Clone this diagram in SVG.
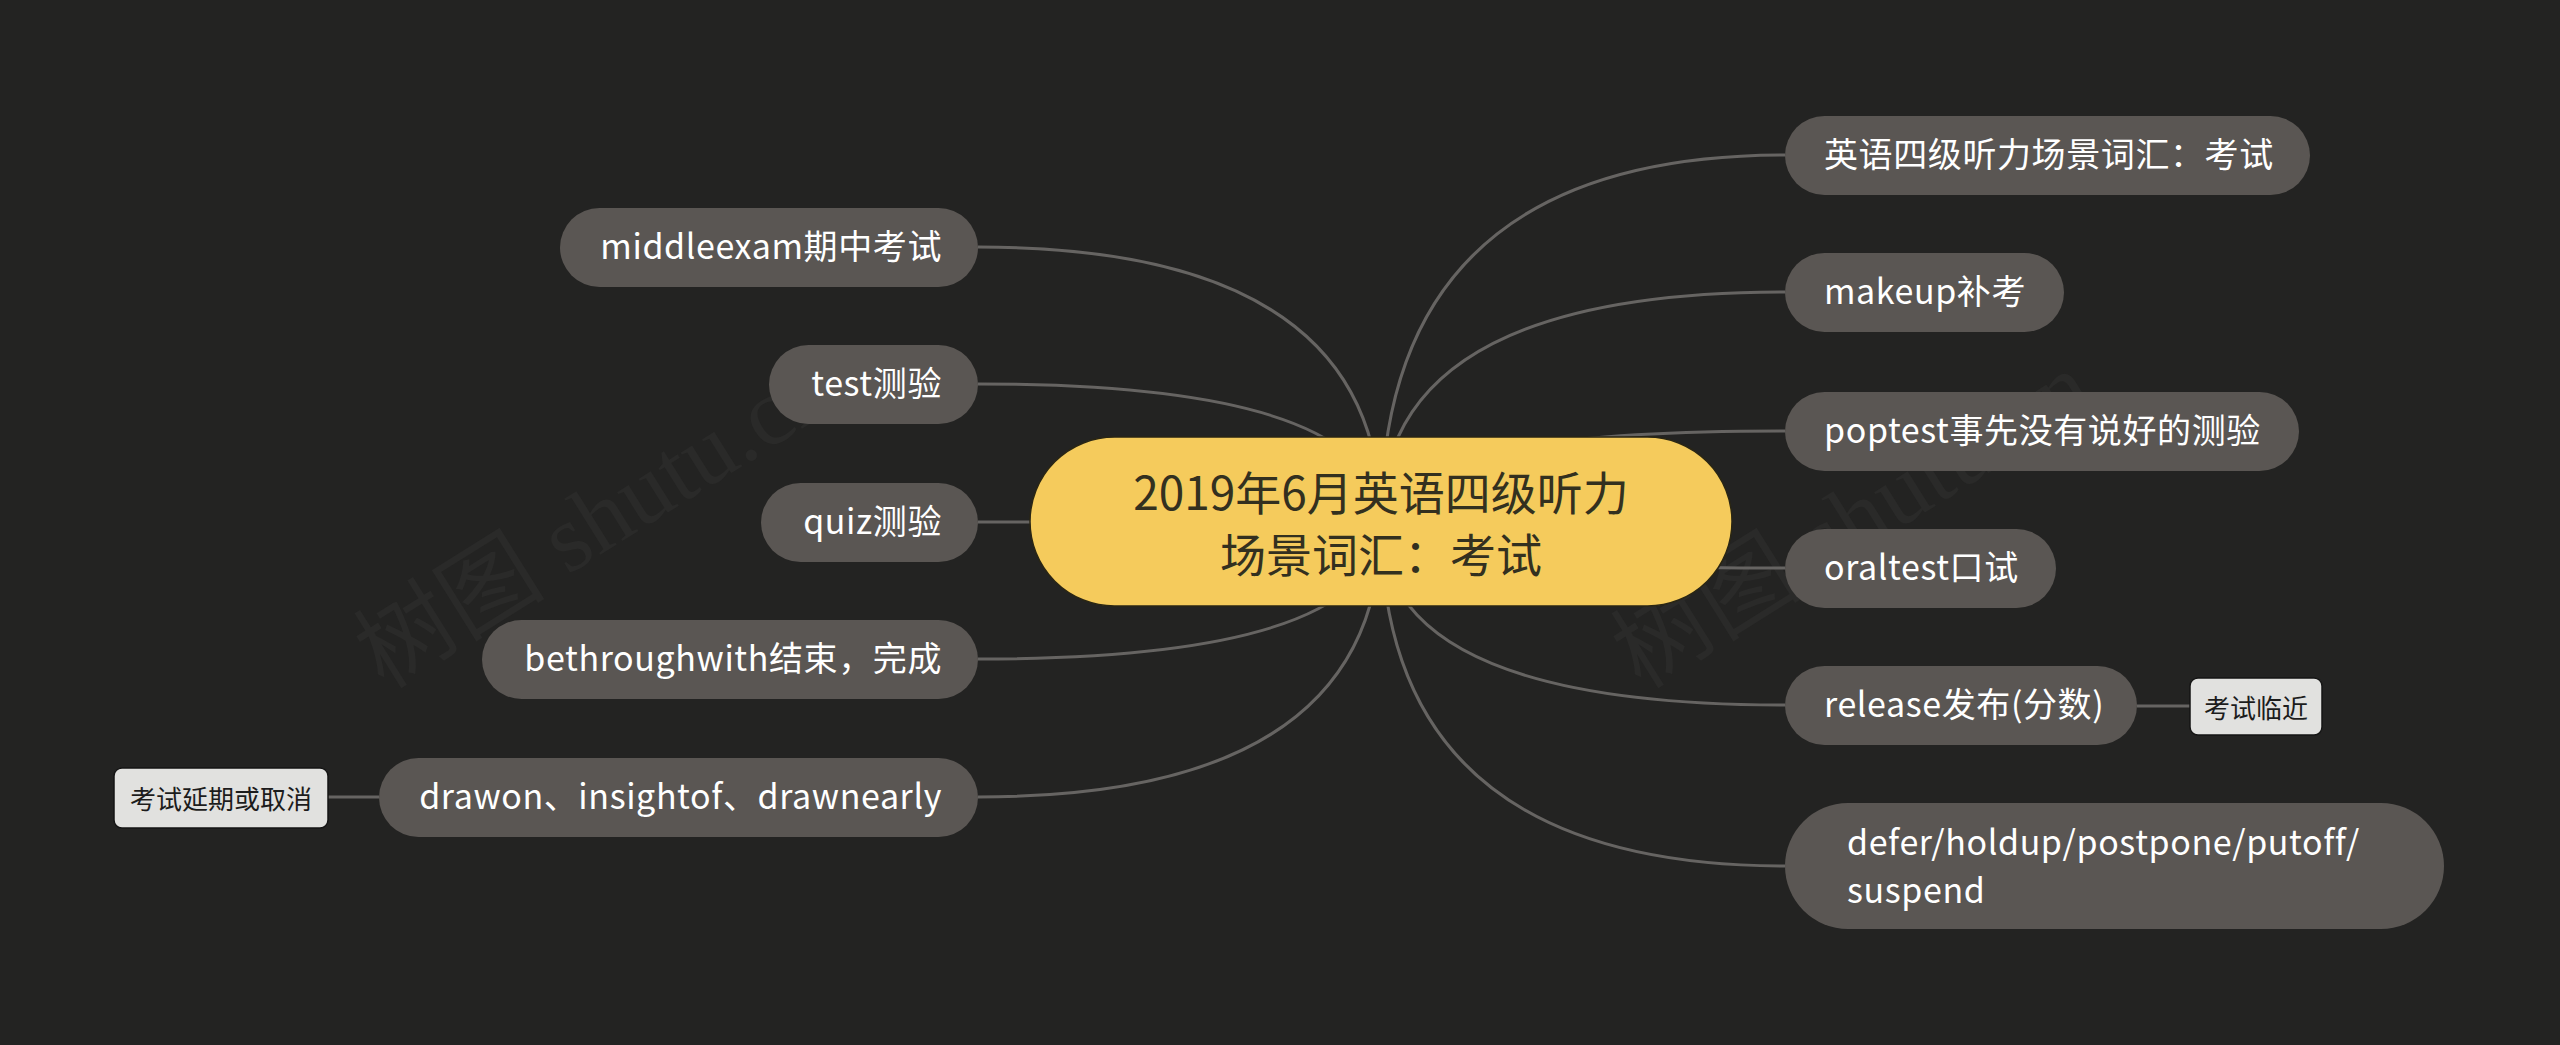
<svg xmlns="http://www.w3.org/2000/svg" width="2560" height="1045" viewBox="0 0 2560 1045">
<defs>
<style>
.bg{fill:#232322}
.wm{font-family:"Liberation Serif","Noto Sans CJK SC",serif;font-size:96px;fill:#2a2a29}
.node rect{fill:#5a5653}
.node text{font-family:"Noto Sans CJK SC","Noto Sans",sans-serif;font-size:34px;letter-spacing:0.6px;fill:#ffffff;dominant-baseline:central}
.root rect{fill:#f5cb5c;stroke:#2a2614;stroke-width:1.5}
.root text{font-family:"Noto Sans CJK SC","Noto Sans",sans-serif;font-size:46px;fill:#33301f;dominant-baseline:central;text-anchor:middle}
.leaf rect{fill:#e1e1df;stroke:#151515;stroke-width:1.5}
.leaf text{font-family:"Noto Sans CJK SC","Noto Sans",sans-serif;font-size:26px;fill:#1c1c1c;dominant-baseline:central;text-anchor:middle}
.left text{text-anchor:end}
.conn path{fill:none;stroke:#666462;stroke-width:3}
</style>
</defs>
<rect class="bg" x="0" y="0" width="2560" height="1045"/>
<text class="wm" transform="translate(384,690) rotate(-32)">树图 shutu.cn</text>
<text class="wm" transform="translate(1641,690) rotate(-32)">树图 shutu.cn</text>
<g id="connectors" class="conn">
<path d="M1381,522 Q1381,247 978,247"/>
<path d="M1381,522 Q1381,384 978,384"/>
<path d="M1381,522 L978,522"/>
<path d="M1381,522 Q1381,659 978,659"/>
<path d="M1381,522 Q1381,797 978,797"/>
<path d="M379,797 L328,797"/>
<path d="M1381,522 Q1381,155 1785,155"/>
<path d="M1381,522 Q1381,292 1785,292"/>
<path d="M1381,522 Q1381,431 1785,431"/>
<path d="M1381,522 Q1381,568 1785,568"/>
<path d="M1381,522 Q1381,705 1785,705"/>
<path d="M1381,522 Q1381,866 1785,866"/>
<path d="M2137,706 L2190,706"/>
</g>
<g id="root" class="root">
<rect x="1030" y="437" width="702" height="169" rx="84.5"/>
<text x="1381" y="490">2019年6月英语四级听力</text>
<text x="1381" y="552">场景词汇：考试</text>
</g>
<g id="n_middleexam" class="node left">
<rect x="560" y="208" width="418" height="79" rx="39.5"/>
<text x="942" y="244">middleexam期中考试</text>
</g>
<g id="n_test" class="node left">
<rect x="769" y="345" width="209" height="79" rx="39.5"/>
<text x="942" y="381">test测验</text>
</g>
<g id="n_quiz" class="node left">
<rect x="761" y="483" width="217" height="79" rx="39.5"/>
<text x="942" y="519">quiz测验</text>
</g>
<g id="n_bethroughwith" class="node left">
<rect x="482" y="620" width="496" height="79" rx="39.5"/>
<text x="942" y="656">bethroughwith结束，完成</text>
</g>
<g id="n_drawon" class="node left">
<rect x="379" y="758" width="599" height="79" rx="39.5"/>
<text x="942" y="794">drawon、insightof、drawnearly</text>
</g>
<g id="c_cancel" class="leaf">
<rect x="114" y="768" width="214" height="60" rx="8"/>
<text x="221" y="797">考试延期或取消</text>
</g>
<g id="n_eng" class="node">
<rect x="1785" y="116" width="525" height="79" rx="39.5"/>
<text x="1824" y="152">英语四级听力场景词汇：考试</text>
</g>
<g id="n_makeup" class="node">
<rect x="1785" y="253" width="279" height="79" rx="39.5"/>
<text x="1824" y="289">makeup补考</text>
</g>
<g id="n_poptest" class="node">
<rect x="1785" y="392" width="514" height="79" rx="39.5"/>
<text x="1824" y="428">poptest事先没有说好的测验</text>
</g>
<g id="n_oraltest" class="node">
<rect x="1785" y="529" width="271" height="79" rx="39.5"/>
<text x="1824" y="565">oraltest口试</text>
</g>
<g id="n_release" class="node">
<rect x="1785" y="666" width="352" height="79" rx="39.5"/>
<text x="1824" y="702">release发布(分数)</text>
</g>
<g id="c_near" class="leaf">
<rect x="2190" y="678" width="132" height="57" rx="8"/>
<text x="2256" y="706">考试临近</text>
</g>
<g id="n_defer" class="node">
<rect x="1785" y="803" width="659" height="126" rx="63"/>
<text x="1847" y="840">defer/holdup/postpone/putoff/</text>
<text x="1847" y="888">suspend</text>
</g>
</svg>
